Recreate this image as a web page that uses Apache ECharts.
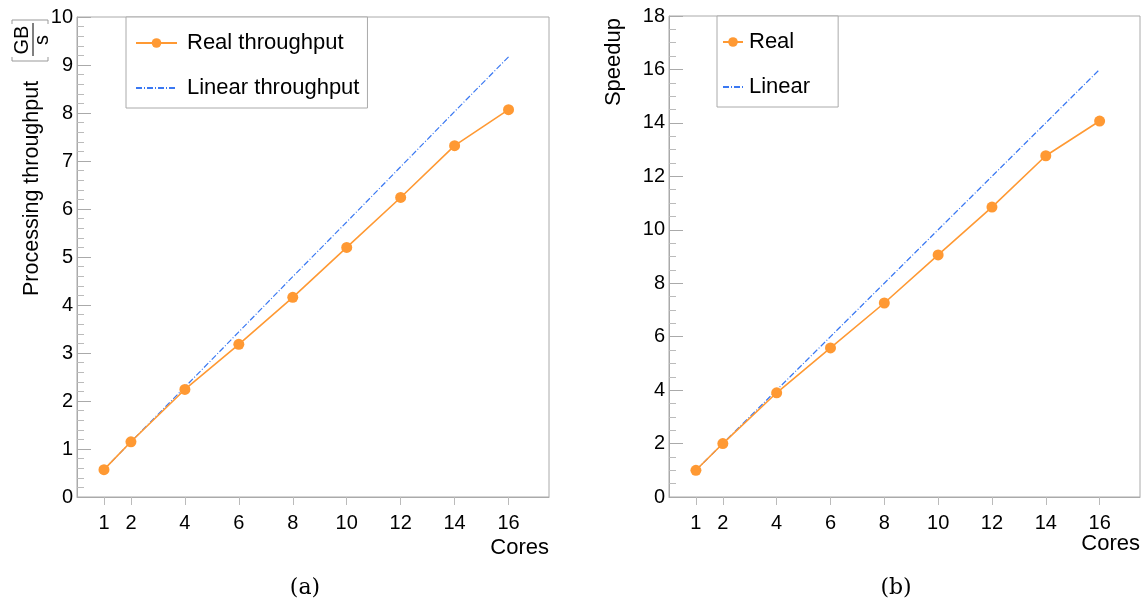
<!DOCTYPE html>
<html style="height: 100%">
<head>
<meta charset="utf-8">
<script src="https://cdn.jsdelivr.net/npm/echarts@6/dist/echarts.min.js"></script>
</head>
<body style="height: 100%; margin: 0; background: #fff">
<div id="container" style="width: 1145px; height: 604px"></div>
<script type="text/javascript">
// cores on the x axis (both panels)
var cores = [1, 2, 4, 6, 8, 10, 12, 14, 16];
var coreTicks = [1, 2, 4, 6, 8, 10, 12, 14, 16];

// (a) processing throughput in GB/s
var realThroughput = [0.57, 1.15, 2.24, 3.18, 4.16, 5.2, 6.24, 7.32, 8.07];
var linearThroughput = [0.57, 1.15, 2.29, 3.44, 4.59, 5.73, 6.88, 8.03, 9.17];

// (b) speedup
var realSpeedup = [1.0, 2.0, 3.9, 5.58, 7.26, 9.06, 10.85, 12.77, 14.07];
var linearSpeedup = [1, 2, 4, 6, 8, 10, 12, 14, 16];

var FONT = 'Liberation Sans, Arial, sans-serif';
var ORANGE = '#ff9933';
var BLUE = '#3a78f2';

function pairs(xs, ys) {
    return xs.map(function (x, i) { return [x, ys[i]]; });
}

function xAxisFor(idx) {
    return {
        type: 'value', gridIndex: idx, min: 0, max: 17.5,
        axisLine: { lineStyle: { color: '#aaa', width: 1 } },
        axisTick: { show: true, customValues: coreTicks, length: 8, inside: false,
                    lineStyle: { color: '#bbb' } },
        axisLabel: { customValues: coreTicks, margin: 16, color: '#000',
                     fontSize: 20, fontFamily: FONT },
        splitLine: { show: false }
    };
}

function yAxisFor(idx, max, interval, minorSplit) {
    return {
        type: 'value', gridIndex: idx, min: 0, max: max, interval: interval,
        axisLine: { show: true, lineStyle: { color: '#aaa', width: 1 } },
        axisTick: { show: true, inside: true, length: 14, lineStyle: { color: '#aaa' } },
        minorTick: { show: true, splitNumber: minorSplit, length: 7, lineStyle: { color: '#bbb' } },
        axisLabel: { margin: 4, color: '#000', fontSize: 20, fontFamily: FONT },
        splitLine: { show: false }
    };
}

var realStyle = {
    type: 'line', symbol: 'circle', symbolSize: 11,
    itemStyle: { color: ORANGE },
    lineStyle: { color: ORANGE, width: 1.6 },
    z: 3
};
var linearStyle = {
    type: 'line', symbol: 'none', showSymbol: false,
    itemStyle: { color: BLUE },
    lineStyle: { color: BLUE, width: 1.2, type: [6, 2, 1, 2] },
    z: 2
};

var legendText = { fontSize: 22, fontFamily: FONT, color: '#000', lineHeight: 24,
                   padding: [0, 0, 0, 5] };

var dom = document.getElementById('container');
var myChart = echarts.init(dom, null, { renderer: 'canvas' });

var option = {
    animation: false,
    backgroundColor: '#fff',
    textStyle: { fontFamily: FONT },
    grid: [
        { left: 77, right: 596, top: 17, bottom: 107, show: true,
          borderColor: '#aaa', borderWidth: 1, containLabel: false },
        { left: 669, right: 5, top: 16, bottom: 107, show: true,
          borderColor: '#aaa', borderWidth: 1, containLabel: false }
    ],
    xAxis: [xAxisFor(0), xAxisFor(1)],
    yAxis: [yAxisFor(0, 10, 1, 5), yAxisFor(1, 18, 2, 4)],
    legend: [
        {
            data: ['Real throughput',
                   { name: 'Linear throughput', itemStyle: { opacity: 0 } }],
            orient: 'vertical', left: 126, top: 17,
            itemWidth: 41, itemHeight: 12, itemGap: 21,
            padding: [14, 8, 8, 9],
            borderColor: '#aaa', borderWidth: 1, backgroundColor: '#fff',
            textStyle: legendText
        },
        {
            data: ['Real', { name: 'Linear', itemStyle: { opacity: 0 } }],
            orient: 'vertical', left: 717, top: 16,
            itemWidth: 20, itemHeight: 12, itemGap: 21,
            padding: [14, 28, 8, 5],
            borderColor: '#aaa', borderWidth: 1, backgroundColor: '#fff',
            textStyle: Object.assign({}, legendText, { padding: [0, 0, 0, 1] })
        }
    ],
    series: [
        Object.assign({ name: 'Real throughput', xAxisIndex: 0, yAxisIndex: 0,
                        data: pairs(cores, realThroughput) }, realStyle),
        Object.assign({ name: 'Linear throughput', xAxisIndex: 0, yAxisIndex: 0,
                        data: pairs(cores, linearThroughput) }, linearStyle),
        Object.assign({ name: 'Real', xAxisIndex: 1, yAxisIndex: 1,
                        data: pairs(cores, realSpeedup) }, realStyle),
        Object.assign({ name: 'Linear', xAxisIndex: 1, yAxisIndex: 1,
                        data: pairs(cores, linearSpeedup) }, linearStyle)
    ],
    graphic: [
        // y title of (a), with the [GB/s] fraction
        {
            type: 'group', x: 32, y: 296, rotation: Math.PI / 2,
            children: [
                { type: 'text', x: 0, y: 0,
                  style: { text: 'Processing throughput', font: '21.5px ' + FONT, fill: '#000',
                           align: 'left', verticalAlign: 'middle' } },
                { type: 'text', x: 256, y: -10,
                  style: { text: 'GB', font: '20px ' + FONT, fill: '#000',
                           align: 'center', verticalAlign: 'middle' } },
                { type: 'line', shape: { x1: 240, y1: 1, x2: 273, y2: 1 },
                  style: { stroke: '#000', lineWidth: 1 } },
                { type: 'text', x: 256, y: 10,
                  style: { text: 's', font: '20px ' + FONT, fill: '#000',
                           align: 'center', verticalAlign: 'middle' } },
                { type: 'polyline', shape: { points: [[239, -20], [235, -20], [235, 16], [239, 16]] },
                  style: { stroke: '#999', lineWidth: 1, fill: null } },
                { type: 'polyline', shape: { points: [[272, -20], [276, -20], [276, 16], [272, 16]] },
                  style: { stroke: '#999', lineWidth: 1, fill: null } }
            ]
        },
        // y title of (b)
        { type: 'text', x: 614, y: 18, rotation: Math.PI / 2,
          style: { text: 'Speedup', font: '22px ' + FONT, fill: '#000',
                   align: 'right', verticalAlign: 'middle' } },
        // x titles
        { type: 'text', x: 549, y: 548,
          style: { text: 'Cores', font: '22px ' + FONT, fill: '#000',
                   align: 'right', verticalAlign: 'middle' } },
        { type: 'text', x: 1140, y: 544,
          style: { text: 'Cores', font: '22px ' + FONT, fill: '#000',
                   align: 'right', verticalAlign: 'middle' } },
        // captions
        { type: 'text', x: 305, y: 588,
          style: { text: '(a)', font: '22px DejaVu Serif, Liberation Serif, serif', fill: '#000',
                   align: 'center', verticalAlign: 'middle' } },
        { type: 'text', x: 896, y: 588,
          style: { text: '(b)', font: '22px DejaVu Serif, Liberation Serif, serif', fill: '#000',
                   align: 'center', verticalAlign: 'middle' } }
    ]
};

myChart.setOption(option);
</script>
</body>
</html>
